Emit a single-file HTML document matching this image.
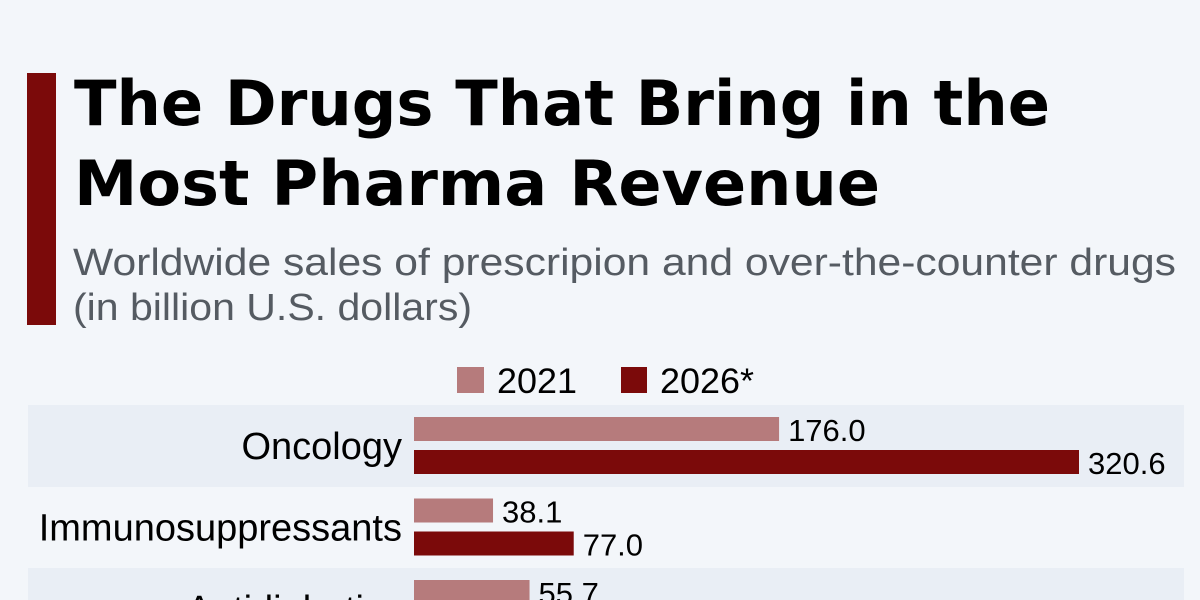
<!DOCTYPE html>
<html><head><meta charset="utf-8">
<style>
html,body{margin:0;padding:0;background:#f3f6fa;overflow:hidden;width:1200px;height:600px;}
svg{display:block;}
</style></head>
<body>
<svg id="chart" width="1200" height="600" viewBox="0 0 1200 600" xmlns="http://www.w3.org/2000/svg">
<rect x="0" y="0" width="1200" height="600" fill="#f3f6fa"/>
<rect x="27" y="73" width="29" height="252" fill="#7b0a0a"/>
<text x="74" y="125" font-family="DejaVu Sans, Liberation Sans, sans-serif" font-weight="bold" font-size="62" fill="#000" textLength="976" lengthAdjust="spacingAndGlyphs">The Drugs That Bring in the</text>
<text x="74" y="205" font-family="DejaVu Sans, Liberation Sans, sans-serif" font-weight="bold" font-size="62" fill="#000" textLength="806" lengthAdjust="spacingAndGlyphs">Most Pharma Revenue</text>
<text x="73" y="275" font-family="Liberation Sans, sans-serif" font-size="38" fill="#555b62" textLength="1103" lengthAdjust="spacingAndGlyphs">Worldwide sales of prescripion and over-the-counter drugs</text>
<text x="73" y="320" font-family="Liberation Sans, sans-serif" font-size="38" fill="#555b62" textLength="399" lengthAdjust="spacingAndGlyphs">(in billion U.S. dollars)</text>
<g>
<rect x="457" y="367" width="27" height="26" fill="#b67b7c"/>
<text x="497" y="393" font-family="Liberation Sans, sans-serif" font-size="35" fill="#000" textLength="80" lengthAdjust="spacingAndGlyphs">2021</text>
<rect x="621" y="367" width="26" height="26" fill="#7b0a0a"/>
<text x="660" y="393" font-family="Liberation Sans, sans-serif" font-size="35" fill="#000" textLength="94" lengthAdjust="spacingAndGlyphs">2026*</text>
</g>
<g id="plot"></g>
</svg>
<script>
const categories = ["Oncology", "Immunosuppressants", "Antidiabetics"];
const values2021 = [176.0, 38.1, 55.7];
const values2026 = [320.6, 77.0, 85.0];
const seriesColors = ["#b67b7c", "#7b0a0a"];

const NS = "http://www.w3.org/2000/svg";
const plot = document.getElementById("plot");
const x0 = 414, pxPerUnit = 665 / 320.6;
const xScale = v => v * pxPerUnit;
const rowTop = i => 405 + i * 81.5;
function mk(tag, attrs, text) {
  const el = document.createElementNS(NS, tag);
  for (const k in attrs) el.setAttribute(k, attrs[k]);
  if (text !== undefined) el.textContent = text;
  plot.appendChild(el);
  return el;
}
categories.forEach((cat, i) => {
  const top = rowTop(i);
  if (i % 2 === 0) {
    const band = mk("rect", {x: 28, y: top, width: 1156, height: 82, fill: "#e9eef5"});
    
    
  }
  const lab = mk("text", {x: 402, y: top + 54, "text-anchor": "end", "font-family": "Liberation Sans, sans-serif", "font-size": 38, fill: "#000"}, cat);
  
  
  [values2021, values2026].forEach((vals, s) => {
    const y = top + 12 + s * 33;
    const w = xScale(vals[i]);
    const bar = mk("rect", {x: x0, y: y, width: w, height: 24, fill: seriesColors[s]});
    
    
    const t = mk("text", {x: x0 + w + 9, y: y + 24, "font-family": "Liberation Sans, sans-serif", "font-size": 31, fill: "#000"}, vals[i].toFixed(1));
    
    
  });
});
</script>
</body></html>
